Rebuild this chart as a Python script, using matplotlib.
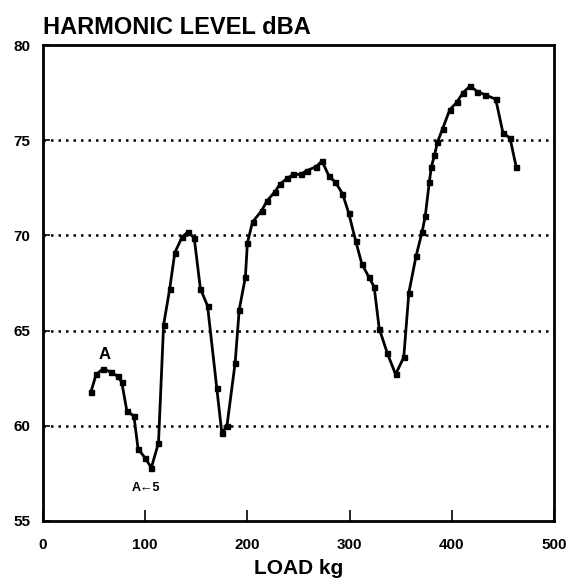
import matplotlib
matplotlib.use("Agg")
import matplotlib.pyplot as plt

plt.rcParams['font.family'] = ['Liberation Sans', 'DejaVu Sans']

title = "HARMONIC LEVEL dBA"
xlabel = "LOAD kg"

load = [47, 52, 59, 67, 73, 77, 82, 89, 93, 100, 106, 113, 118, 124, 129,
        136, 142, 148, 154, 161, 170, 175, 180, 188, 192, 198, 200, 205,
        214, 219, 227, 232, 239, 245, 252, 258, 267, 273, 280, 286, 293,
        299, 306, 312, 319, 324, 329, 337, 345, 353, 358, 365, 371, 374,
        378, 380, 383, 386, 391, 398, 405, 411, 418, 425, 432, 443, 450,
        457, 463]
level = [61.8, 62.7, 63.0, 62.8, 62.6, 62.3, 60.8, 60.5, 58.8, 58.3, 57.8,
         59.1, 65.3, 67.2, 69.1, 69.9, 70.2, 69.85, 67.2, 66.3, 62.0, 59.6,
         60.0, 63.3, 66.1, 67.8, 69.6, 70.7, 71.3, 71.8, 72.3, 72.7, 73.0,
         73.2, 73.2, 73.4, 73.6, 73.9, 73.1, 72.8, 72.2, 71.2, 69.7, 68.5,
         67.8, 67.3, 65.1, 63.8, 62.7, 63.6, 67.0, 68.9, 70.2, 71.0, 72.8,
         73.6, 74.2, 74.9, 75.6, 76.6, 77.0, 77.5, 77.85, 77.55, 77.4, 77.15,
         75.4, 75.1, 73.6]

xticks = [0, 100, 200, 300, 400, 500]
yticks = [55, 60, 65, 70, 75, 80]
grid_levels = [60, 65, 70, 75]

fig = plt.figure(figsize=(5.74, 5.85), dpi=100)
ax = fig.add_axes([43/574, 1 - 521/585, 511/574, 476/585])

for g in grid_levels:
    ax.axhline(g, color='black', linestyle=(0, (1, 2.0)), linewidth=1.8, zorder=1)

ax.plot(load, level, color='black', linewidth=2.0, marker='s', markersize=3.6,
        zorder=3)

ax.text(60, 63.75, "A", fontsize=12, fontweight='bold', ha='center', va='center')
ax.text(101, 56.75, "A\u21905", fontsize=9, fontweight='bold',
        ha='center', va='center')

ax.set_xlim(0, 500)
ax.set_ylim(55, 80)
ax.set_xticks(xticks)
ax.set_yticks(yticks)
ax.tick_params(axis='both', direction='in', labelsize=11, width=1.2)
ax.tick_params(axis='x', length=8, pad=12)
ax.tick_params(axis='y', length=5, pad=9)
for lab in ax.get_xticklabels() + ax.get_yticklabels():
    lab.set_fontweight('bold')
for sp in ax.spines.values():
    sp.set_linewidth(2.0)

ax.set_xlabel(xlabel, fontsize=15, fontweight='bold', labelpad=5)
fig.text(43/574, 1 - 34/585, title, fontsize=17, fontweight='bold',
         ha='left', va='baseline')

fig.savefig("out.png", dpi=100)
